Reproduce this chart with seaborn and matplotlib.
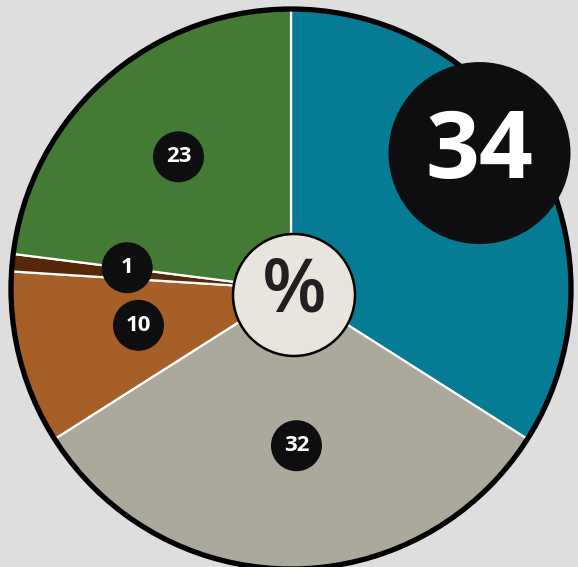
import numpy as np
import seaborn as sns
import matplotlib.pyplot as plt
from matplotlib.patches import Circle

# slice data (clockwise from 12 o'clock)
labels = ["34", "32", "10", "1", "23"]
values = [34, 32, 10, 1, 23]
colors = ["#067c94", "#aaa99b", "#a65f26", "#57270a", "#447b34"]

sns.set_theme(style="white")
plt.rcParams["font.family"] = ["Open Sans", "DejaVu Sans"]

W, H = 578, 567
fig = plt.figure(figsize=(W / 100, H / 100), dpi=100)
fig.patch.set_facecolor("#dedede")
ax = fig.add_axes([0, 0, 1, 1])

cx, cy, R = 291, H - 289, 280

wedges, _ = ax.pie(values, colors=colors, startangle=90, counterclock=False,
                   center=(cx, cy), radius=R, frame=True,
                   wedgeprops=dict(edgecolor="white", linewidth=1.6))
ax.set_xlim(0, W)
ax.set_ylim(0, H)
ax.set_aspect("equal")
ax.axis("off")

# outer black ring
ax.add_patch(Circle((cx, cy), R, facecolor="none", edgecolor="black", lw=3.8, zorder=3))

# center badge
ax.add_patch(Circle((cx + 3, cy - 6), 61, facecolor="#e8e4de", edgecolor="black", lw=1.8, zorder=4))
ax.text(cx + 3, cy - 3, "%", ha="center", va="center", fontsize=54, fontweight="semibold",
        color="#231f20", zorder=5)

# number badges
rad_frac = [0.83, 0.56, 0.56, 0.59, 0.62]
ang_shift = [7, 2, -1, -2, -1]
for w, lab, rf, sh in zip(wedges, labels, rad_frac, ang_shift):
    mid = np.deg2rad((w.theta1 + w.theta2) / 2 + sh)
    x = cx + rf * R * np.cos(mid)
    y = cy + rf * R * np.sin(mid)
    big = lab == "34"
    ax.add_patch(Circle((x, y), 91 if big else 25.5, facecolor="#0e0e11", edgecolor="none", zorder=6))
    ax.text(x, y, lab, ha="center", va="center", color="white", fontweight="bold",
            fontsize=68 if big else 16, zorder=7)

fig.savefig("out.png", dpi=100, facecolor=fig.get_facecolor())
